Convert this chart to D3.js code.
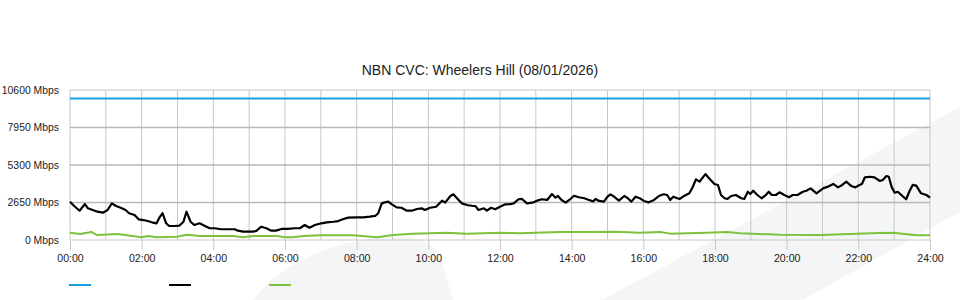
<!DOCTYPE html>
<html>
<head>
<meta charset="utf-8">
<script src="https://cdn.jsdelivr.net/npm/d3@7"></script>
<style>
  html, body { margin: 0; padding: 0; background: #fff; }
  svg { display: block; font-family: "Liberation Sans", Arial, Helvetica, sans-serif; }
</style>
</head>
<body>
<svg id="chart" width="960" height="300"></svg>
<script>
// ---- Data (minutes since 00:00, Mbps) ----
const titleText = "NBN CVC: Wheelers Hill (08/01/2026)";
const yTicks = [0, 2650, 5300, 7950, 10600];
const xTickHours = [0, 2, 4, 6, 8, 10, 12, 14, 16, 18, 20, 22, 24];

const capacityTimes = [0, 1440];
const capacityValues = [10000, 10000];

const downTimes = [0,7,16,25,30,38,46,55,63,70,77,85,93,99,108,115,123,130,137,145,150,155,161,166,175,183,190,195,202,208,217,226,234,242,253,265,276,281,290,298,306,312,320,329,337,345,354,365,376,385,393,401,410,421,430,441,449,458,466,480,491,502,511,516,522,527,533,539,547,555,564,572,581,589,594,603,613,623,628,637,642,648,656,665,673,679,684,693,698,705,712,720,729,737,743,751,757,765,774,782,790,799,807,813,817,823,830,836,844,852,861,869,876,880,886,894,900,905,911,919,928,933,940,947,954,961,969,978,986,994,1000,1005,1010,1017,1021,1029,1037,1043,1048,1054,1064,1070,1079,1085,1090,1096,1101,1107,1115,1124,1129,1135,1139,1144,1151,1158,1164,1170,1175,1182,1188,1196,1204,1210,1218,1227,1233,1240,1250,1261,1269,1278,1286,1293,1300,1308,1315,1322,1326,1331,1339,1347,1356,1361,1367,1371,1376,1381,1386,1392,1400,1406,1411,1417,1425,1434,1440];
const downValues = [2700,2400,2070,2540,2240,2120,2000,1930,2120,2590,2400,2280,2120,1890,1770,1460,1410,1340,1250,1180,1600,1890,1180,990,990,1010,1290,2000,1290,1060,1180,990,830,830,760,760,760,660,590,590,590,640,940,830,660,660,780,780,830,830,1060,870,1060,1180,1250,1290,1340,1480,1580,1600,1600,1650,1700,1890,2590,2660,2710,2520,2310,2280,2070,2070,2190,2240,2120,2280,2350,2780,2640,3110,3230,2950,2590,2470,2420,2400,2120,2240,2070,2280,2170,2350,2520,2540,2590,2880,2900,2590,2640,2780,2880,2830,3250,2990,3110,2830,2640,2830,3130,3020,2950,2830,2730,2900,2760,2710,3060,3230,3060,2780,3110,2990,2710,3060,2950,2760,2660,2830,3110,3230,3180,2830,3060,2950,2900,3130,3300,3770,4290,4120,4660,4360,3960,3890,3180,2950,2900,3110,3180,2950,2900,3410,3250,3480,3180,2950,3130,3410,3180,3180,3370,3180,3020,3180,3180,3410,3480,3650,3300,3650,3770,3960,3720,3890,4120,3820,3720,3890,3960,4430,4470,4430,4170,4240,4520,4470,3720,3340,3410,3180,2880,3480,3890,3840,3300,3180,2990];

const upTimes = [0,17,36,45,80,95,120,131,145,179,195,218,273,290,306,346,360,373,390,419,474,514,541,574,631,664,720,753,820,865,915,954,988,1005,1066,1100,1122,1189,1256,1356,1378,1418,1440];
const upValues = [520,420,570,350,420,330,190,280,190,230,370,280,280,190,280,280,190,190,280,330,330,190,350,450,520,450,520,470,570,570,590,520,570,450,520,570,470,370,350,490,520,330,330];

const seriesColors = ["#1a9fe0", "#000000", "#7dc13c"];

// ---- Layout ----
const svg = d3.select("#chart");
const W = 960, H = 300;
const m = { left: 70, right: 30, top: 90, bottom: 60 };

const x = d3.scaleLinear().domain([0, 1440]).range([m.left, W - m.right]);
const y = d3.scaleLinear().domain([0, 10600]).range([H - m.bottom, m.top]);

// watermark background shapes
const wm = svg.append("g").attr("fill", "#f4f5f7");
wm.append("path").attr("d", "M253,300 C278,266 325,242 388,237 C418,235 434,244 440,256 L453,300 Z");
wm.append("path").attr("d", "M602,300 L960,107 L960,212 L802,300 Z");

// grid: vertical lines every hour
const gridV = svg.append("g");
gridV.selectAll("line").data(d3.range(0, 25)).join("line")
  .attr("x1", d => x(d * 60)).attr("x2", d => x(d * 60))
  .attr("y1", y(10600)).attr("y2", y(0))
  .attr("stroke", "#c8c8c8").attr("stroke-width", 1);

// grid: horizontal lines
const gridH = svg.append("g");
gridH.selectAll("line").data(yTicks).join("line")
  .attr("x1", x(0)).attr("x2", x(1440))
  .attr("y1", d => y(d)).attr("y2", d => y(d))
  .attr("stroke", d => (d === 0 || d === 10600) ? "#c8c8c8" : "#b8b8b8")
  .attr("stroke-width", d => (d === 0 || d === 10600) ? 1 : 1.5);

// y-axis labels
const yAxis = d3.axisLeft(y).tickValues(yTicks).tickSize(0).tickPadding(11)
  .tickFormat(d => d + " Mbps");
svg.append("g").attr("transform", `translate(${m.left},0)`).call(yAxis)
  .call(g => g.select(".domain").remove())
  .call(g => g.selectAll("text").attr("font-size", 10.4).attr("fill", "#222")
    .attr("font-family", "'Liberation Sans', Arial, sans-serif"));

// x-axis
const xAxis = d3.axisBottom(x).tickValues(xTickHours.map(h => h * 60)).tickSize(10).tickPadding(4)
  .tickFormat(d => String(d / 60).padStart(2, "0") + ":00");
svg.append("g").attr("transform", `translate(0,${y(0)})`).call(xAxis)
  .call(g => g.select(".domain").remove())
  .call(g => g.selectAll(".tick line").attr("stroke", "#c8c8c8"))
  .call(g => g.selectAll("text").attr("font-size", 10.6).attr("fill", "#222")
    .attr("font-family", "'Liberation Sans', Arial, sans-serif"));

// lines
const line = d3.line().x(d => x(d[0])).y(d => y(d[1])).curve(d3.curveLinear);
const series = [
  d3.zip(capacityTimes, capacityValues),
  d3.zip(downTimes, downValues),
  d3.zip(upTimes, upValues)
];
const drawOrder = [2, 1, 0];
drawOrder.forEach(i => {
  svg.append("path").datum(series[i])
    .attr("fill", "none").attr("stroke", seriesColors[i])
    .attr("stroke-width", i === 1 ? 2.2 : 2)
    .attr("stroke-linejoin", "round")
    .attr("d", line);
});

// title
svg.append("text").attr("x", 480).attr("y", 75).attr("text-anchor", "middle")
  .attr("font-size", 14).attr("fill", "#222").text(titleText);

// legend (swatches only)
const legend = svg.append("g");
legend.selectAll("line").data(seriesColors).join("line")
  .attr("x1", (d, i) => 69 + i * 100).attr("x2", (d, i) => 91 + i * 100)
  .attr("y1", 285).attr("y2", 285)
  .attr("stroke", d => d).attr("stroke-width", 2);
</script>
</body>
</html>
